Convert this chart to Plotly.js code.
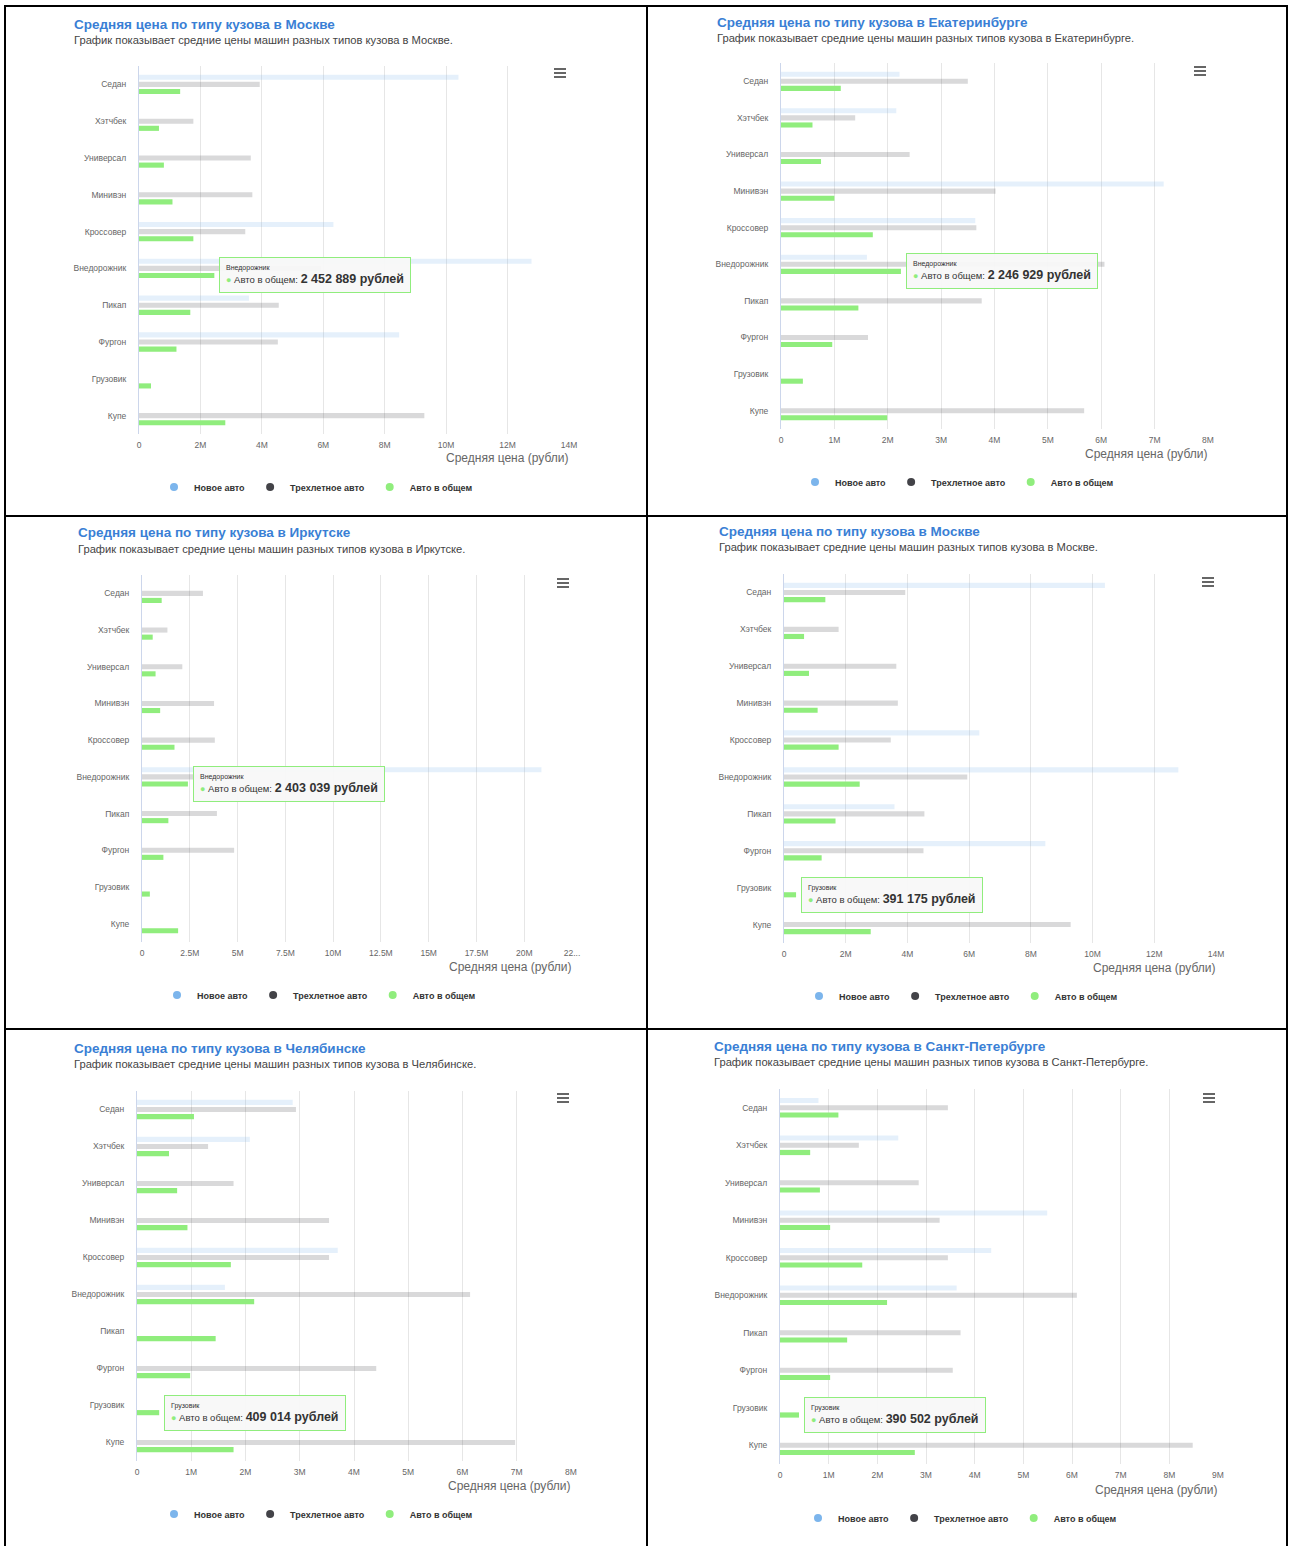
<!DOCTYPE html>
<html>
<head>
<meta charset="utf-8">
<script src="https://cdn.plot.ly/plotly-3.0.1.min.js"></script>
<style>
html,body{margin:0;padding:0;background:#fff;}
#chart{width:1290px;height:1546px;}
</style>
</head>
<body>
<div id="chart"></div>
<script>
// ---------- data ----------
const categories = ['Седан','Хэтчбек','Универсал','Минивэн','Кроссовер','Внедорожник','Пикап','Фургон','Грузовик','Купе'];
const seriesNames = ['Новое авто','Трехлетное авто','Авто в общем'];

const moscowNew   = [10400000, null, null, null, 6330000, 12780000, 3580000, 8470000, null, null];
const moscowUsed  = [3930000, 1770000, 3640000, 3690000, 3460000, 5940000, 4550000, 4520000, null, 9290000];
const moscowTotal = [1340000, 650000, 810000, 1090000, 1770000, 2452889, 1670000, 1220000, 391175, 2810000];

const ekbNew   = [2220000, 2160000, null, 7170000, 3640000, 1610000, null, null, null, null];
const ekbUsed  = [3500000, 1390000, 2410000, 4020000, 3660000, 6060000, 3760000, 1630000, null, 5680000];
const ekbTotal = [1120000, 590000, 750000, 1000000, 1720000, 2246929, 1450000, 960000, 410000, 1990000];

const irkNew   = [null, null, null, null, null, 20900000, null, null, null, null];
const irkUsed  = [3190000, 1330000, 2110000, 3770000, 3810000, 5000000, 3920000, 4820000, null, null];
const irkTotal = [1030000, 560000, 710000, 950000, 1700000, 2403039, 1380000, 1120000, 410000, 1890000];

const chelNew   = [2870000, 2080000, null, null, 3700000, 1620000, null, null, null, null];
const chelUsed  = [2930000, 1310000, 1780000, 3540000, 3540000, 6140000, null, 4410000, null, 6970000];
const chelTotal = [1050000, 590000, 740000, 930000, 1730000, 2160000, 1450000, 980000, 409014, 1780000];

const spbNew   = [790000, 2430000, null, 5490000, 4340000, 3630000, null, null, null, null];
const spbUsed  = [3450000, 1620000, 2850000, 3280000, 3450000, 6100000, 3710000, 3550000, null, 8480000];
const spbTotal = [1200000, 620000, 820000, 1030000, 1690000, 2200000, 1380000, 1030000, 390502, 2770000];

// tick values / labels
const ticks14Vals = [0, 2000000, 4000000, 6000000, 8000000, 10000000, 12000000, 14000000];
const ticks14Text = ['0','2M','4M','6M','8M','10M','12M','14M'];
const ticks8Vals  = [0, 1000000, 2000000, 3000000, 4000000, 5000000, 6000000, 7000000, 8000000];
const ticks8Text  = ['0','1M','2M','3M','4M','5M','6M','7M','8M'];
const ticks9Vals  = [0, 1000000, 2000000, 3000000, 4000000, 5000000, 6000000, 7000000, 8000000, 9000000];
const ticks9Text  = ['0','1M','2M','3M','4M','5M','6M','7M','8M','9M'];
const ticksIrkVals = [0, 2500000, 5000000, 7500000, 10000000, 12500000, 15000000, 17500000, 20000000, 22500000];
const ticksIrkText = ['0','2.5M','5M','7.5M','10M','12.5M','15M','17.5M','20M','22...'];

const axisTitle = 'Средняя цена (рубли)';
const tipLabel = 'Авто в общем';
const tipUnit = 'рублей';

// ---------- styles ----------
const legendColors = ['#7cb5ec', '#434348', '#90ed7d'];
const barColors = ['rgba(124,181,236,0.2)', 'rgba(67,67,72,0.2)', '#90ed7d'];
const FONT = 'Liberation Sans, Arial, Helvetica, sans-serif';

const W = 1290, H = 1546;
const px = x => x / W;
const py = y => 1 - y / H;

const panels = [
  {title:'Средняя цена по типу кузова в Москве', sub:'График показывает средние цены машин разных типов кузова в Москве.',
   data:[moscowNew, moscowUsed, moscowTotal], tv:ticks14Vals, tt:ticks14Text, max:14000000,
   x0:139, x1:569, top:66, bot:434, tX:72, tY:25, sY:40, aY:458, lX:316, lY:487, bX:560, bY:73, tip:5},
  {title:'Средняя цена по типу кузова в Екатеринбурге', sub:'График показывает средние цены машин разных типов кузова в Екатеринбурге.',
   data:[ekbNew, ekbUsed, ekbTotal], tv:ticks8Vals, tt:ticks8Text, max:8000000,
   x0:781, x1:1208, top:63, bot:429, tX:715, tY:23, sY:38, aY:454, lX:957, lY:482, bX:1200, bY:71, tip:5},
  {title:'Средняя цена по типу кузова в Иркутске', sub:'График показывает средние цены машин разных типов кузова в Иркутске.',
   data:[irkNew, irkUsed, irkTotal], tv:ticksIrkVals, tt:ticksIrkText, max:22500000,
   x0:142, x1:572, top:575, bot:942, tX:76, tY:533, sY:549, aY:967, lX:319, lY:995, bX:563, bY:583, tip:5},
  {title:'Средняя цена по типу кузова в Москве', sub:'График показывает средние цены машин разных типов кузова в Москве.',
   data:[moscowNew, moscowUsed, moscowTotal], tv:ticks14Vals, tt:ticks14Text, max:14000000,
   x0:784, x1:1216, top:574, bot:943, tX:717, tY:531, sY:547, aY:968, lX:961, lY:996, bX:1208, bY:582, tip:8},
  {title:'Средняя цена по типу кузова в Челябинске', sub:'График показывает средние цены машин разных типов кузова в Челябинске.',
   data:[chelNew, chelUsed, chelTotal], tv:ticks8Vals, tt:ticks8Text, max:8000000,
   x0:137, x1:571, top:1091, bot:1461, tX:72, tY:1048, sY:1064, aY:1486, lX:316, lY:1514, bX:563, bY:1098, tip:8},
  {title:'Средняя цена по типу кузова в Санкт-Петербурге', sub:'График показывает средние цены машин разных типов кузова в Санкт-Петербурге.',
   data:[spbNew, spbUsed, spbTotal], tv:ticks9Vals, tt:ticks9Text, max:9000000,
   x0:780, x1:1218, top:1089, bot:1464, tX:712, tY:1046, sY:1062, aY:1490, lX:960, lY:1518, bX:1209, bY:1098, tip:8}
];

function fmt(v) {
  return Math.round(v).toString().replace(/\B(?=(\d{3})+(?!\d))/g, ' ');
}

const traces = [];
const layout = {
  width: W, height: H,
  margin: {l:0, r:0, t:0, b:0},
  paper_bgcolor: '#fff', plot_bgcolor: '#fff',
  font: {family: FONT, color: '#333'},
  barmode: 'group', bargap: 0.42, bargroupgap: 0.28,
  showlegend: true,
  hovermode: false,
  annotations: [],
  shapes: []
};

panels.forEach((p, i) => {
  const s = i === 0 ? '' : String(i + 1);
  const xa = 'x' + s, ya = 'y' + s;
  const legKey = 'legend' + s;

  // bars
  for (let k = 0; k < 3; k++) {
    traces.push({
      type: 'bar', orientation: 'h',
      y: categories, x: p.data[k],
      name: seriesNames[k],
      marker: {color: barColors[k]},
      xaxis: xa, yaxis: ya,
      showlegend: false, hoverinfo: 'skip'
    });
  }
  // legend entries (circle symbols)
  for (let k = 0; k < 3; k++) {
    traces.push({
      type: 'scatter', mode: 'markers',
      x: [null], y: [null],
      name: seriesNames[k],
      marker: {color: legendColors[k], size: 8, symbol: 'circle'},
      xaxis: xa, yaxis: ya,
      legend: legKey, showlegend: true, hoverinfo: 'skip'
    });
  }

  layout['xaxis' + s] = {
    domain: [px(p.x0), px(p.x1)],
    anchor: ya,
    range: [0, p.max],
    tickmode: 'array', tickvals: p.tv, ticktext: p.tt,
    showgrid: true, gridcolor: '#e6e6e6', gridwidth: 1,
    zeroline: false, showline: false, ticks: '',
    ticklabelstandoff: 4,
    tickfont: {size: 8.5, color: '#666', family: FONT},
    fixedrange: true
  };
  layout['yaxis' + s] = {
    domain: [py(p.bot), py(p.top)],
    anchor: xa,
    type: 'category', categoryorder: 'array', categoryarray: categories,
    autorange: 'reversed',
    showline: true, linecolor: '#ccd6eb', linewidth: 1,
    showgrid: false, zeroline: false, ticks: '',
    ticklabelstandoff: 10,
    tickfont: {size: 8.5, color: '#666', family: FONT},
    fixedrange: true
  };
  layout[legKey] = {
    orientation: 'h',
    x: px(p.lX), xanchor: 'center',
    y: py(p.lY), yanchor: 'middle',
    font: {size: 9, color: '#333', family: FONT, weight: 'bold'},
    bgcolor: 'rgba(0,0,0,0)',
    itemwidth: 30,
    tracegroupgap: 0
  };

  // title + subtitle
  layout.annotations.push({
    xref: 'paper', yref: 'paper', x: px(p.tX), y: py(p.tY),
    xanchor: 'left', yanchor: 'middle', showarrow: false,
    text: '<b>' + p.title + '</b>',
    font: {size: 13.5, color: '#3a7fd5', family: FONT}
  });
  layout.annotations.push({
    xref: 'paper', yref: 'paper', x: px(p.tX), y: py(p.sY),
    xanchor: 'left', yanchor: 'middle', showarrow: false,
    text: p.sub,
    font: {size: 11.2, color: '#444', family: FONT}
  });
  // axis title (right aligned, below ticks)
  layout.annotations.push({
    xref: 'paper', yref: 'paper', x: px(p.x1 + 1), y: py(p.aY),
    xanchor: 'right', yanchor: 'middle', showarrow: false,
    text: axisTitle,
    font: {size: 12, color: '#666', family: FONT}
  });
  // tooltip
  const tv = p.data[2][p.tip];
  layout.annotations.push({
    xref: xa, yref: ya, x: tv, y: categories[p.tip],
    xanchor: 'left', yanchor: 'middle', xshift: 5, yshift: -7,
    showarrow: false, align: 'left',
    bgcolor: 'rgba(248,248,248,0.95)', bordercolor: '#90ed7d', borderwidth: 1, borderpad: 6,
    text: '<span style="font-size:7px;color:#333">' + categories[p.tip] + '</span><br>' +
          '<span style="color:#90ed7d;font-size:9px">●</span>' +
          '<span style="font-size:9.5px;color:#333"> ' + tipLabel + ': </span>' +
          '<b><span style="font-size:12.5px;color:#333">' + fmt(tv) + ' ' + tipUnit + '</span></b>',
    font: {size: 10, color: '#333', family: FONT}
  });
  // context-menu (hamburger) icon
  [-4, 0, 4].forEach(dy => {
    layout.shapes.push({
      type: 'line', xref: 'paper', yref: 'paper',
      x0: px(p.bX - 6), x1: px(p.bX + 6), y0: py(p.bY + dy), y1: py(p.bY + dy),
      line: {color: '#666', width: 2}
    });
  });
});

// panel borders (table grid)
const borderLines = [
  [5, 6, 1288, 6], [5, 516, 1288, 516], [5, 1029, 1288, 1029],
  [5, 5, 5, 1546], [647, 5, 647, 1546], [1287, 5, 1287, 1546]
];
borderLines.forEach(b => {
  layout.shapes.push({
    type: 'line', xref: 'paper', yref: 'paper',
    x0: px(b[0]), y0: py(b[1]), x1: px(b[2]), y1: py(b[3]),
    line: {color: '#000', width: 2}
  });
});

Plotly.newPlot('chart', traces, layout, {displayModeBar: false, staticPlot: true});
</script>
</body>
</html>
